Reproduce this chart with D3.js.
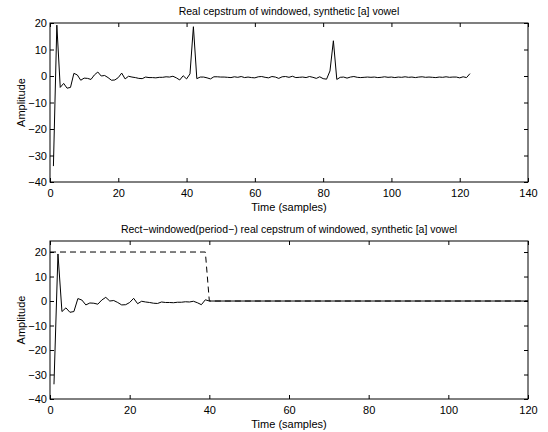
<!DOCTYPE html>
<html>
<head>
<meta charset="utf-8">
<script src="https://cdn.jsdelivr.net/npm/d3@7"></script>
<style>
  body { margin: 0; background: #fff; }
  svg text { font-family: "Liberation Sans", Arial, Helvetica, sans-serif; fill: #000; }
</style>
</head>
<body>
<svg id="chart" width="548" height="432"></svg>
<script>
// real cepstrum, samples 1..123
const cepstrum = [
  -34, 19.2, -4.3, -2.8, -4.6, -4.3, 1.0, 0.4, -1.6, -0.8,
  -0.9, -1.3, 0.4, 1.5, 0.0, 0.2, -0.6, -1.6, -1.5, -0.6,
  1.1, -1.1, -0.1, -0.4, -0.6, -0.9, -1.0, -0.4, -0.6, -0.6,
  -0.7, -0.5, -0.5, -0.3, -0.4, -0.1, -0.7, -1.5, 0.1, -1.1,
  0.8, 18.6, -1.0, -0.4, -0.4, -0.7, -1.1, -0.3, -0.3, -0.4,
  -0.4, -0.5, -0.6, -0.3, -0.5, -0.2, -0.6, -0.4, -0.6, -0.7,
  -0.3, -0.2, -0.5, -0.7, -0.2, -0.4, -0.9, -0.3, -0.2, -0.5,
  -0.1, -0.6, -0.5, -0.4, -0.6, -0.2, -0.5, -0.9, -0.3, -1.0,
  -1.2, 1.9, 13.3, -1.3, -0.5, -0.4, -0.8, -0.4, -0.2, -0.5,
  -0.6, -0.5, -0.4, -0.5, -0.4, -0.6, -0.5, -0.3, -0.5, -0.4,
  -0.6, -0.4, -0.5, -0.3, -0.5, -0.4, -0.6, -0.4, -0.3, -0.5,
  -0.4, -0.5, -0.6, -0.4, -0.5, -0.3, -0.5, -0.4, -0.4, -0.7,
  -0.3, -0.6, 0.9
];
// liftered cepstrum, samples 1..40, then zero up to sample 120
const liftered = [
  -34, 19.2, -4.3, -2.8, -4.6, -4.3, 1.0, 0.4, -1.6, -0.8,
  -0.9, -1.3, 0.4, 1.5, 0.0, 0.2, -0.6, -1.6, -1.5, -0.6,
  1.1, -1.1, -0.1, -0.4, -0.6, -0.9, -1.0, -0.4, -0.6, -0.6,
  -0.7, -0.5, -0.5, -0.3, -0.4, -0.1, -0.7, -1.5, 0.5, 0
];
const lifteredTail = [[120, 0]];
// rectangular lifter window (dashed)
const windowN = [0, 39, 40, 120];
const windowV = [20, 20, 0, 0];

const xTicksTop = [0, 20, 40, 60, 80, 100, 120, 140];
const xTicksBot = [0, 20, 40, 60, 80, 100, 120];
const yTicks = [-40, -30, -20, -10, 0, 10, 20];

const titles = [
  'Real cepstrum of windowed, synthetic [a] vowel',
  'Rect\u2212windowed(period\u2212) real cepstrum of windowed, synthetic [a] vowel'
];

const svg = d3.select('#chart');
const fmt = d => d < 0 ? '\u2212' + Math.abs(d) : String(d);

function panel(box, xDom, yDom, xTicks, title, series) {
  const x = d3.scaleLinear().domain(xDom).range([box.left, box.right]);
  const y = d3.scaleLinear().domain(yDom).range([box.bottom, box.top]);
  const g = svg.append('g');
  const clipId = 'clip' + Math.round(box.top);
  svg.append('clipPath').attr('id', clipId)
    .append('rect')
    .attr('x', box.left).attr('y', box.top)
    .attr('width', box.right - box.left).attr('height', box.bottom - box.top);

  const line = d3.line().x(d => x(d[0])).y(d => y(d[1]));
  series.forEach(s => {
    g.append('path')
      .attr('clip-path', 'url(#' + clipId + ')')
      .attr('d', line(s.pts))
      .attr('fill', 'none')
      .attr('stroke', '#000')
      .attr('stroke-width', 1)
      .attr('stroke-dasharray', s.dash || null);
  });

  // axes with inward ticks on all four sides
  const tl = 4;
  g.append('g').attr('transform', 'translate(0,' + box.bottom + ')')
    .call(d3.axisBottom(x).tickValues(xTicks).tickSizeInner(-tl).tickSizeOuter(0).tickPadding(7).tickFormat(fmt))
    .call(a => a.select('.domain').remove());
  g.append('g').attr('transform', 'translate(0,' + box.top + ')')
    .call(d3.axisTop(x).tickValues(xTicks).tickSizeInner(-tl).tickSizeOuter(0).tickFormat(''))
    .call(a => a.select('.domain').remove());
  g.append('g').attr('transform', 'translate(' + box.left + ',0)')
    .call(d3.axisLeft(y).tickValues(yTicks).tickSizeInner(-tl).tickSizeOuter(0).tickPadding(3).tickFormat(fmt))
    .call(a => a.select('.domain').remove());
  g.append('g').attr('transform', 'translate(' + box.right + ',0)')
    .call(d3.axisRight(y).tickValues(yTicks).tickSizeInner(-tl).tickSizeOuter(0).tickFormat(''))
    .call(a => a.select('.domain').remove());
  g.selectAll('.tick text').attr('font-size', 11).attr('font-family', null);
  g.selectAll('.tick line').attr('stroke', '#000');

  g.append('rect')
    .attr('x', box.left).attr('y', box.top)
    .attr('width', box.right - box.left).attr('height', box.bottom - box.top)
    .attr('fill', 'none').attr('stroke', '#000').attr('stroke-width', 1);

  g.append('text')
    .attr('x', (box.left + box.right) / 2).attr('y', box.top - 8)
    .attr('text-anchor', 'middle').attr('font-size', 10.5)
    .text(title);
  g.append('text')
    .attr('x', (box.left + box.right) / 2).attr('y', box.bottom + 29)
    .attr('text-anchor', 'middle').attr('font-size', 11)
    .text('Time (samples)');
  g.append('text')
    .attr('transform', 'translate(25,' + ((box.top + box.bottom) / 2) + ') rotate(-90)')
    .attr('text-anchor', 'middle').attr('font-size', 11)
    .text('Amplitude');
}

const topPts = cepstrum.map((v, i) => [i + 1, v]);
panel({ left: 50, right: 528, top: 23, bottom: 182 }, [0, 140], [-40, 20], xTicksTop, titles[0],
  [{ pts: topPts }]);

const liftPts = liftered.map((v, i) => [i + 1, v]).concat(lifteredTail);
const winPts = windowN.map((n, i) => [n, windowV[i]]);
panel({ left: 50, right: 528, top: 241, bottom: 399 }, [0, 120], [-40, 24.5], xTicksBot, titles[1],
  [{ pts: liftPts }, { pts: winPts, dash: '6,4' }]);
</script>
</body>
</html>
